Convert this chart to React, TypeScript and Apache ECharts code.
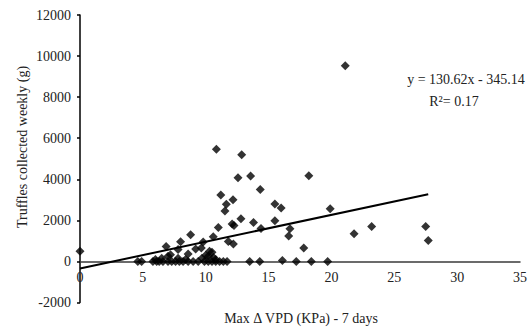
import React, { useEffect, useRef } from "react";
import * as echarts from "echarts";

const xTickLabels = ["0", "5", "10", "15", "20", "25", "30", "35"];
const yTickLabels = ["-2000", "0", "2000", "4000", "6000", "8000", "10000", "12000"];

// Points at (or very near) zero
const zeroPoints: [number, number][] = [
  [4.6, 0], [4.9, 0], [5.8, 0], [6.1, 0], [6.3, 0], [6.6, 0], [7.0, 0], [7.3, 0],
  [7.6, 0], [7.9, 0], [8.2, 0], [8.6, 0], [9.0, 0], [9.4, 0], [9.9, 0], [10.2, 0],
  [10.5, 0], [10.8, 0], [11.1, 0], [11.4, 0], [11.7, 0], [13.5, 0], [14.3, 0],
  [16.1, 50], [17.2, 0], [18.4, 0], [19.7, 0],
];

// Small values just above zero
const smallPoints: [number, number][] = [
  [6.0, 100], [6.5, 150], [7.0, 250], [7.2, 330], [7.8, 150], [8.4, 100], [8.6, 360],
  [9.7, 150], [10.0, 300], [10.2, 250], [10.3, 500], [10.5, 450], [10.6, 200], [10.8, 100],
];

// Low values
const lowPoints: [number, number][] = [
  [0, 500], [6.85, 730], [7.8, 580], [8.0, 960], [8.8, 1300], [9.2, 600], [9.8, 950],
  [9.65, 650], [10.6, 1200], [11.0, 1650], [11.8, 970], [12.2, 850], [12.1, 1820],
  [12.25, 1750], [12.8, 2075], [13.8, 1900], [14.4, 1600], [17.8, 650],
];

// Higher values
const highPoints: [number, number][] = [
  [10.85, 5460], [12.86, 5200], [12.57, 4080], [13.57, 4165], [14.34, 3500], [11.2, 3240],
  [12.17, 3000], [11.64, 2790], [11.53, 2450], [15.5, 2800], [16.0, 2600], [15.5, 1980],
  [16.7, 1590], [16.6, 1235], [18.2, 4170], [19.9, 2560], [21.8, 1350], [23.2, 1700],
  [27.5, 1700], [27.7, 1020], [21.1, 9530],
];

// Trend line endpoints (y = 130.62x - 345.14)
const trendLine: [number, number][] = [
  [0, -345.14],
  [27.7, 3273],
];

const equationText = "y = 130.62x - 345.14";
const r2Text = "R²= 0.17";
const xName = "Max Δ VPD (KPa) - 7 days";
const yName = "Truffles collected weekly (g)";

const FONT = "'Liberation Serif', 'Times New Roman', serif";

const GRID_TOP = 15;
const GRID_BOTTOM = 25.5;
const CHART_H = 328;
const Y_MIN = -2000;
const Y_MAX = 12000;

export default function App() {
  const ref = useRef<HTMLDivElement>(null);
  useEffect(() => {
    if (!ref.current) return;
    const chart = echarts.init(ref.current, null, { renderer: "svg" });
    const allPoints = [...zeroPoints, ...smallPoints, ...lowPoints, ...highPoints];
    const gridH = CHART_H - GRID_TOP - GRID_BOTTOM;
    const zeroOffset = -((0 - Y_MIN) / (Y_MAX - Y_MIN)) * gridH;
    chart.setOption({
      animation: false,
      backgroundColor: "#ffffff",
      grid: { left: 80, right: 12, top: GRID_TOP, bottom: GRID_BOTTOM },
      xAxis: {
        type: "value",
        min: 0,
        max: 35,
        interval: 5,
        position: "bottom",
        offset: zeroOffset,
        axisLine: { onZero: false, lineStyle: { color: "#3a3a3a", width: 1.5 } },
        axisTick: { show: false },
        splitLine: { show: false },
        axisLabel: {
          margin: 9,
          color: "#222",
          fontFamily: FONT,
          fontSize: 14,
          formatter: (v: number) => xTickLabels[Math.round(v / 5)] ?? String(v),
        },
      },
      yAxis: {
        type: "value",
        min: Y_MIN,
        max: Y_MAX,
        interval: 2000,
        axisLine: { show: true, onZero: false, lineStyle: { color: "#000", width: 1.5 } },
        axisTick: { show: true, length: 3, lineStyle: { color: "#000", width: 1.5 } },
        splitLine: { show: false },
        axisLabel: {
          margin: 9,
          color: "#222",
          fontFamily: FONT,
          fontSize: 14,
          formatter: (v: number) => yTickLabels[Math.round((v + 2000) / 2000)] ?? String(v),
        },
      },
      series: [
        {
          type: "scatter",
          data: allPoints,
          symbol: "diamond",
          symbolSize: 9,
          itemStyle: { color: "#000" },
          z: 3,
        },
        {
          type: "line",
          data: trendLine,
          symbol: "none",
          lineStyle: { color: "#000", width: 2 },
          z: 4,
        },
      ],
      graphic: [
        {
          type: "text",
          x: 22,
          y: 147,
          rotation: Math.PI / 2,
          style: {
            text: yName,
            fontFamily: FONT,
            fontSize: 14,
            fill: "#222",
            align: "center",
            verticalAlign: "middle",
          },
        },
        {
          type: "text",
          x: 301,
          y: 318,
          style: {
            text: xName,
            fontFamily: FONT,
            fontSize: 14,
            fill: "#222",
            align: "center",
            verticalAlign: "middle",
          },
        },
        {
          type: "text",
          x: 466,
          y: 79,
          style: {
            text: equationText,
            fontFamily: FONT,
            fontSize: 14,
            fill: "#222",
            align: "center",
            verticalAlign: "middle",
          },
        },
        {
          type: "text",
          x: 454,
          y: 101,
          style: {
            text: r2Text,
            fontFamily: FONT,
            fontSize: 14,
            fill: "#222",
            align: "center",
            verticalAlign: "middle",
          },
        },
      ],
    });
    return () => chart.dispose();
  }, []);
  return <div ref={ref} style={{ width: 532, height: 328, position: "absolute", left: 0, top: 0 }} />;
}
